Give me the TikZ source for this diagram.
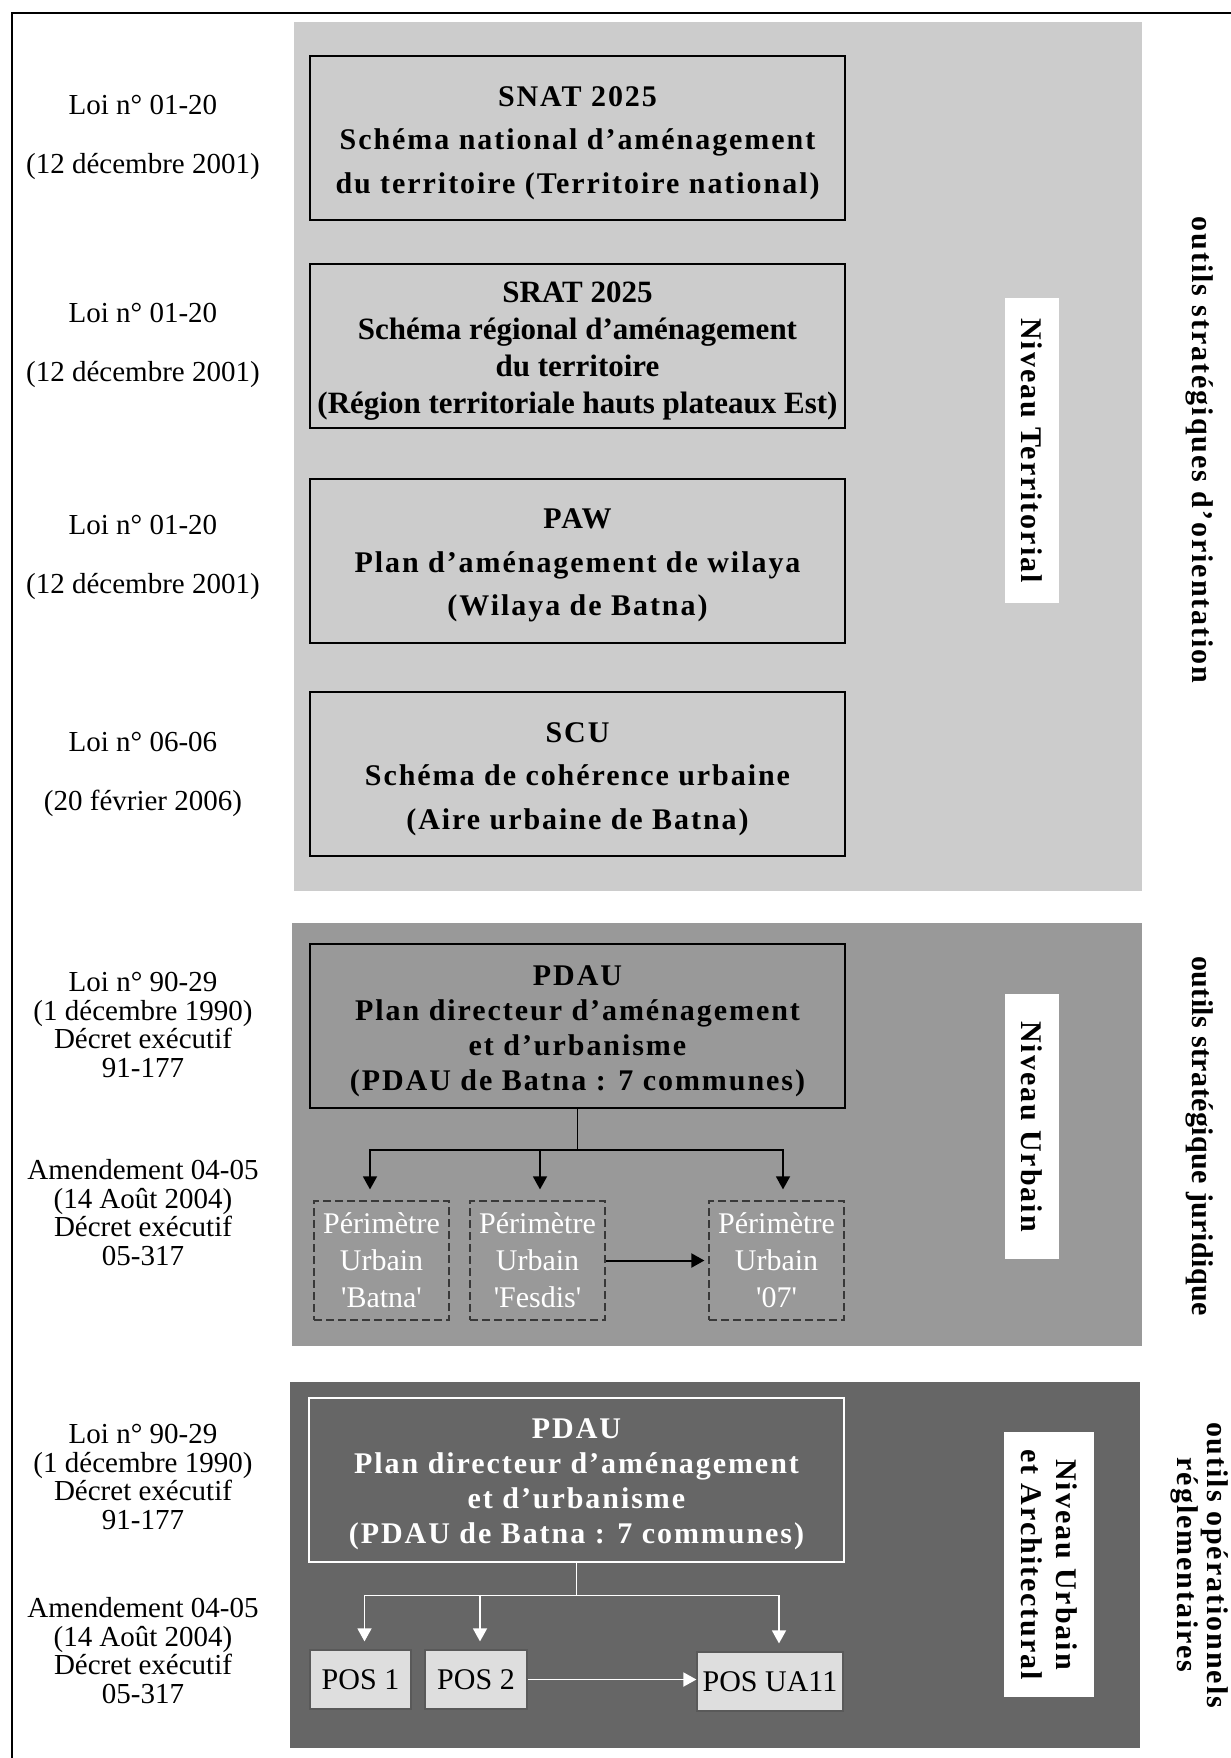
\documentclass[tikz,border=0pt]{standalone}
\usepackage{fontspec}
\setmainfont{Liberation Serif}
\newfontfamily\trackfont[LetterSpace=6.5]{Liberation Serif}
\newfontfamily\slimtrack[LetterSpace=1.5]{Liberation Serif}
\usetikzlibrary{arrows.meta,positioning,calc}
\definecolor{terrgray}{gray}{0.8}
\definecolor{urbgray}{gray}{0.6}
\definecolor{archgray}{gray}{0.4}
\definecolor{posgray}{gray}{0.87}
\definecolor{dashgray}{gray}{0.22}
\tikzset{
  loi/.style={align=center, font=\fontsize{14.5}{14.4}\selectfont},
  loiwide/.style={align=center, font=\fontsize{14.5}{29.5}\selectfont},
  tool/.style={draw=black, line width=1pt, inner sep=0pt,
    minimum width=267.5pt, minimum height=82pt, align=center},
  toolw/.style={tool, font=\trackfont\bfseries\fontsize{15}{21.75}\selectfont},
  pdau/.style={tool, font=\trackfont\bfseries\fontsize{15}{17.5}\selectfont},
  perim/.style={draw=dashgray, dash pattern=on 4pt off 2pt, line width=0.6pt,
    inner sep=0pt, minimum width=67.5pt, minimum height=59.5pt, align=center,
    text=white, font=\fontsize{15}{18.5}\selectfont},
  posbox/.style={draw=black!65, fill=posgray, line width=0.6pt, inner sep=0pt,
    minimum height=29.5pt, font=\fontsize{15}{17}\selectfont},
  level/.style={fill=white, rotate=-90, inner sep=0pt, align=center,
    font=\trackfont\bfseries\fontsize{15}{17.5}\selectfont},
  side/.style={rotate=-90, inner sep=0pt, align=center,
    font=\trackfont\bfseries\fontsize{15}{15}\selectfont},
  tree/.style={line width=0.7pt},
  treearrow/.style={tree, -{Triangle[length=6.5pt,width=7pt]}},
  wtree/.style={tree, white},
  wtreearrow/.style={wtree, -{Triangle[length=6.5pt,width=7pt]}}
}
\newcommand{\hd}{\rule{0pt}{15pt}}

\begin{document}
\begin{tikzpicture}[x=0.5pt, y=-0.5pt]
  \useasboundingbox (0,0) rectangle (1231,1758);

  % background panels
  \fill[terrgray] (294,22) rectangle (1142,891);
  \fill[urbgray] (292,923) rectangle (1142,1346);
  \fill[archgray] (290,1382) rectangle (1140,1748);
  \draw[line width=0.75pt] (12,1758) -- (12,13) -- (1231,13);

  % territorial level
  \node[loiwide] (loi1) at (143,137) {Loi n° 01-20\\(12 décembre 2001)};
  \node[loiwide] (loi2) at (143,345) {Loi n° 01-20\\(12 décembre 2001)};
  \node[loiwide] (loi3) at (143,557) {Loi n° 01-20\\(12 décembre 2001)};
  \node[loiwide] (loi4) at (143,774) {Loi n° 06-06\\(20 février 2006)};

  \node[toolw] (snat) at (577.5,138)
    {\hd SNAT 2025\\Schéma national d’aménagement\\du territoire (Territoire national)};
  \node[tool, font=\bfseries\fontsize{15.5}{18.5}\selectfont] (srat) at (577.5,346)
    {\hd SRAT 2025\\Schéma régional d’aménagement\\du territoire\\(Région territoriale hauts plateaux Est)};
  \node[toolw] (paw) at (577.5,560.5)
    {\hd PAW\\Plan d’aménagement de wilaya\\(Wilaya de Batna)};
  \node[toolw] (scu) at (577.5,774)
    {\hd SCU\\Schéma de cohérence urbaine\\(Aire urbaine de Batna)};

  \node[level, minimum width=152.5pt, minimum height=27pt] (terr) at (1032,450.5)
    {Niveau Territorial};
  \node[side] (orient) at (1200,450) {outils stratégiques d’orientation};

  % urban level
  \node[loi] (loi5) at (143,1025) {Loi n° 90-29\\(1 décembre 1990)\\Décret exécutif\\91-177};
  \node[loi] (amd1) at (143,1212.5) {Amendement 04-05\\(14 Août 2004)\\Décret exécutif\\05-317};

  \node[pdau] (pdau1) at (577.5,1026)
    {\hd PDAU\\Plan directeur d’aménagement\\et d’urbanisme\\(PDAU de Batna : 7 communes)};
  \node[perim] (batna) at (381.5,1260.5) {Périmètre\\Urbain\\\textquotesingle Batna\textquotesingle};
  \node[perim] (fesdis) at (537.5,1260.5) {Périmètre\\Urbain\\\textquotesingle Fesdis\textquotesingle};
  \node[perim] (seven) at (776.5,1260.5) {Périmètre\\Urbain\\\textquotesingle 07\textquotesingle};

  \draw[tree] (pdau1.south) -- ++(0,41) coordinate (fork1);
  \foreach \t/\dx in {batna/-5.75pt, fesdis/1.25pt, seven/3.25pt}
    \draw[treearrow, shorten >=5.5pt] (fork1) -| ([xshift=\dx]\t.north);
  \draw[treearrow, line width=1pt, shorten >=2pt] (fesdis) -- (seven);

  \node[level, minimum width=132.5pt, minimum height=27pt] (urb) at (1032,1126.5)
    {Niveau Urbain};
  \node[side, font=\slimtrack\bfseries\fontsize{15}{15}\selectfont] (jurid) at (1200,1136)
    {outils stratégique juridique};

  % urban and architectural level
  \node[loi] (loi6) at (143,1477) {Loi n° 90-29\\(1 décembre 1990)\\Décret exécutif\\91-177};
  \node[loi] (amd2) at (143,1650.5) {Amendement 04-05\\(14 Août 2004)\\Décret exécutif\\05-317};

  \node[pdau, draw=white, text=white] (pdau2) at (576.5,1479.5)
    {\hd PDAU\\Plan directeur d’aménagement\\et d’urbanisme\\(PDAU de Batna : 7 communes)};
  \node[posbox, minimum width=50.5pt] (pos1) at (360.5,1679.5) {POS 1};
  \node[posbox, minimum width=51pt] (pos2) at (476,1679.5) {POS 2};
  \node[posbox, minimum width=73pt] (ua11) at (770,1681.5) {POS UA11};

  \draw[wtree] (pdau2.south) -- ++(0,33) coordinate (fork2);
  \foreach \t/\dx in {pos1/2pt, pos2/2pt, ua11/4.5pt}
    \draw[wtreearrow, shorten >=4pt] (fork2) -| ([xshift=\dx]\t.north);
  \draw[wtreearrow, line width=0.9pt] (pos2.east) -- (pos2.east -| ua11.west);

  \node[level, minimum width=132.5pt, minimum height=45pt] (arch) at (1049,1564.5)
    {Niveau Urbain\\et Architectural};
  \node[side] (regl) at (1200,1565) {outils opérationnels\\réglementaires};
\end{tikzpicture}
\end{document}
